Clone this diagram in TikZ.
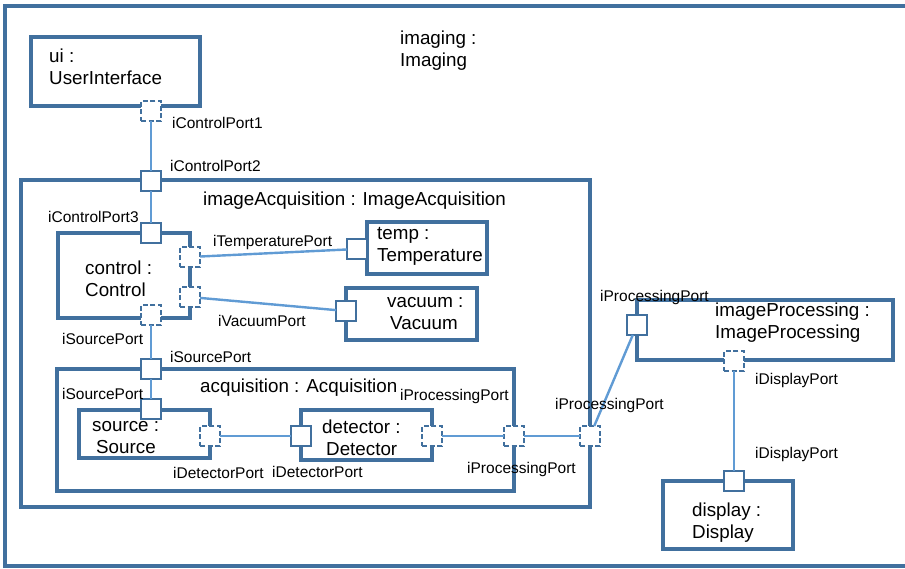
\documentclass[tikz,border=0pt]{standalone}
\usepackage{fontspec}
\setmainfont{Liberation Sans}
\definecolor{boxc}{RGB}{65,112,158}
\definecolor{connc}{RGB}{96,155,212}
\tikzset{
 part/.style={draw=boxc, line width=3.3pt, fill=white, inner sep=0pt, outer sep=0pt},
 portbox/.style={draw=boxc, line width=2.8pt, fill=white, minimum size=20pt, inner sep=0pt, outer sep=0pt},
 dport/.style={portbox, dash pattern=on 5pt off 2.6pt},
 conn/.style={draw=connc, line width=2.4pt},
 ttl/.style={font=\fontsize{18.8}{22}\selectfont, align=left, anchor=west, inner sep=0pt},
 lbl/.style={font=\fontsize{15.5}{18}\selectfont, anchor=west, inner sep=0pt},
}
\begin{document}
\begin{tikzpicture}[x=1pt,y=-1pt]
\useasboundingbox (0,0) rectangle (905,568);
\clip (0,0) rectangle (905,568);
% outer frame
\node[part, minimum width=930, minimum height=560, anchor=north west] (imaging) at (5,6) {};
\node[ttl] (imagingT) at (400,50.5) {imaging :\\Imaging};
% parts
\node[part, minimum width=169, minimum height=69] (ui) at (115.5,71.5) {};
\node[ttl] (uiT) at (49,67) {ui :\\UserInterface};
\node[part, minimum width=569, minimum height=327] (ia) at (305.5,343.5) {};
\node[ttl] (iaT) at (203,201) {imageAcquisition : ImageAcquisition};
\node[part, minimum width=132, minimum height=85] (ctrl) at (124,275.5) {};
\node[ttl] (ctrlT) at (85,279) {control :\\Control};
\node[part, minimum width=120, minimum height=52] (temp) at (427,248) {};
\node[ttl] (tempT) at (377,246) {temp :\\Temperature};
\node[part, minimum width=131, minimum height=52] (vac) at (411.5,314) {};
\node[ttl] (vacT) at (387,314) {vacuum :\\\hspace*{3pt}Vacuum};
\node[part, minimum width=457, minimum height=122] (acq) at (285.5,430) {};
\node[ttl] (acqT) at (200,388) {acquisition : Acquisition};
\node[part, minimum width=131, minimum height=48] (src) at (144.5,434) {};
\node[ttl] (srcT) at (92,438) {source :\\\hspace*{4pt}Source};
\node[part, minimum width=131, minimum height=50] (det) at (366.5,435) {};
\node[ttl] (detT) at (322,438) {detector :\\\hspace*{4pt}Detector};
\node[part, minimum width=256, minimum height=60] (ip) at (765,330) {};
\node[ttl] (ipT) at (715,323) {imageProcessing :\\ImageProcessing};
\node[part, minimum width=130, minimum height=68] (disp) at (728,515) {};
\node[ttl] (dispT) at (692,523) {display :\\Display};
% ports
\node[dport] (pUI) at (151,111) {};
\node[portbox] (pIAc) at (151,181) {};
\node[portbox] (pCt) at (151,233) {};
\node[dport] (pCtemp) at (190,257) {};
\node[dport] (pCvac) at (190,297) {};
\node[dport] (pCsrc) at (151,315) {};
\node[portbox] (pTemp) at (357,249) {};
\node[portbox] (pVac) at (346,311) {};
\node[portbox] (pAsrc) at (151,369) {};
\node[portbox] (pStop) at (151,409) {};
\node[dport] (pSdet) at (210,436) {};
\node[portbox] (pDsrc) at (301,436) {};
\node[dport] (pDproc) at (432,436) {};
\node[dport] (pAproc) at (514,436) {};
\node[dport] (pIAproc) at (590,436) {};
\node[portbox] (pIPproc) at (637,325) {};
\node[dport] (pIPdisp) at (734,361) {};
\node[portbox] (pDisp) at (734,481) {};
% connectors
\draw[conn] (pUI) -- (pIAc);
\draw[conn] (pIAc) -- (pCt);
\draw[conn] (pCtemp) -- (pTemp);
\draw[conn] (pCvac) -- (pVac);
\draw[conn] (pCsrc) -- (pAsrc);
\draw[conn, line width=1.6pt] (pAsrc) -- (pStop);
\draw[conn] (pSdet) -- (pDsrc);
\draw[conn] (pDproc) -- (pAproc);
\draw[conn] (pAproc) -- (pIAproc);
\draw[conn] (pIAproc) -- (pIPproc);
\draw[conn] (pIPdisp) -- (pDisp);
% port labels
\node[lbl] (l1) at (172,122.5) {iControlPort1};
\node[lbl] (l2) at (170,165.5) {iControlPort2};
\node[lbl] (l3) at (48,216.5) {iControlPort3};
\node[lbl] (l4) at (213,242.5) {iTemperaturePort};
\node[lbl] (l5) at (218,320.5) {iVacuumPort};
\node[lbl] (l6) at (62,338.5) {iSourcePort};
\node[lbl] (l7) at (170,356.5) {iSourcePort};
\node[lbl] (l8) at (62,393.5) {iSourcePort};
\node[lbl] (l9) at (400,396.5) {iProcessingPort};
\node[lbl] (l10) at (173,472.5) {iDetectorPort};
\node[lbl] (l11) at (272,471.5) {iDetectorPort};
\node[lbl] (l12) at (467,469.5) {iProcessingPort};
\node[lbl] (l13) at (555,405.5) {iProcessingPort};
\node[lbl] (l14) at (600,297.5) {iProcessingPort};
\node[lbl] (l15) at (755,380.5) {iDisplayPort};
\node[lbl] (l16) at (755,454.5) {iDisplayPort};
\end{tikzpicture}
\end{document}
